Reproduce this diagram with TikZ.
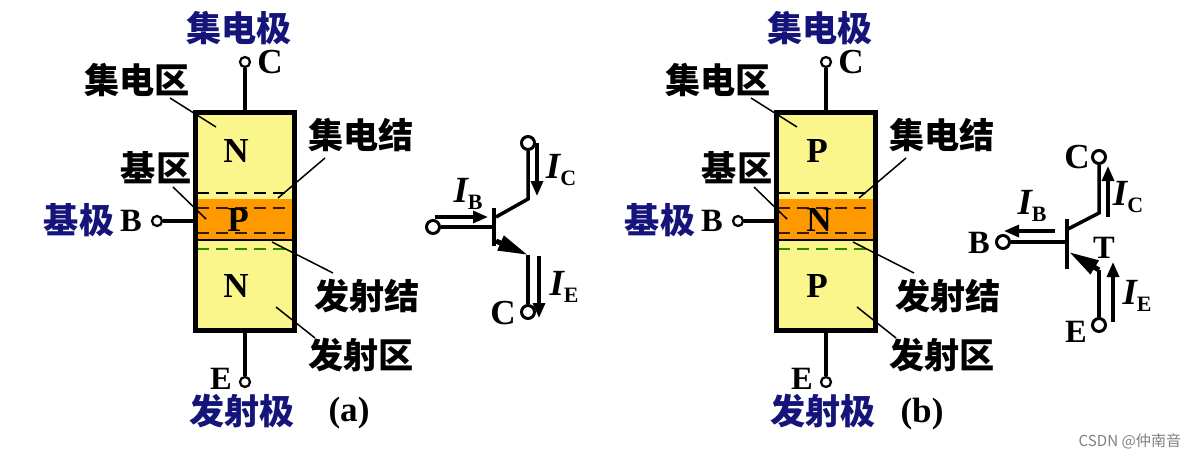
\documentclass[tikz,border=0pt]{standalone}
\usepackage{fontspec}
\usepackage{xcolor}
\setmainfont{Liberation Serif}
\newfontfamily\cjk{Noto Sans CJK SC}
\usetikzlibrary{arrows.meta,calc}
\definecolor{regionN}{HTML}{FBF68C}
\definecolor{regionM}{HTML}{FF9900}
\definecolor{poleblue}{HTML}{14147A}
\definecolor{junctiongreen}{HTML}{2E8B00}
\newcommand{\curlab}[1]{{\fontsize{21pt}{21pt}\selectfont\bfseries\itshape I}\raisebox{-0.9ex}{\fontsize{12.5pt}{12.5pt}\selectfont\bfseries #1}}
\tikzset{
  zh/.style={font=\cjk\bfseries\fontsize{20pt}{20pt}\selectfont, inner sep=0pt},
  pole/.style={zh, text=poleblue},
  lat/.style={font=\bfseries\fontsize{20pt}{20pt}\selectfont, inner sep=0pt},
  latsmall/.style={font=\bfseries\fontsize{18.5pt}{18.5pt}\selectfont, inner sep=0pt},
  cur/.style={inner sep=0pt},
  term/.style={circle, draw, fill=white, line width=0.045cm, minimum size=0.2cm, inner sep=0pt},
  bigterm/.style={term, line width=0.06cm, minimum size=0.26cm},
  lead/.style={line width=0.09cm},
  pointer/.style={line width=0.03cm},
  cutline/.style={line width=0.035cm, dash pattern=on 0.24cm off 0.14cm},
  flow/.style={line width=0.065cm, -{Stealth[length=0.3cm,width=0.24cm,inset=0pt]}},
  emit/.style={line width=0.1cm, -{Stealth[length=0.6cm,width=0.3cm,inset=0pt]}}
}

\begin{document}
\begin{tikzpicture}[x=0.02cm, y=-0.02cm]
\useasboundingbox (0,0) rectangle (1195,457);

\foreach \dx/\outerlet/\innerlet/\tag in {0/N/P/a, 581/P/N/b}{
\begin{scope}[shift={(\dx,0)}]
% regions of the crystal
\fill[regionN] (195,112) rectangle (295,331);
\fill[regionM] (195,199) rectangle (295,240);
\draw[line width=0.03cm] (195,240) -- (295,240);
\draw[cutline] (197,193) -- (293,193);
\draw[cutline, black!80!regionM] (197,208) -- (293,208);
\draw[cutline, black!80!regionM] (197,233) -- (293,233);
\draw[cutline, junctiongreen] (197,249) -- (293,249);
\node[draw, line width=0.1cm, minimum width=1.98cm, minimum height=4.38cm, inner sep=0pt] (box\tag) at (245,221.5) {};

% letters in the regions
\node[lat] (upper\tag) at (236,151) {\outerlet};
\node[lat] (centre\tag) at (238,220) {\innerlet};
\node[lat] (lower\tag) at (236,286) {\outerlet};

% terminals
\node[term] (C\tag) at (245,62) {};
\node[term] (B\tag) at (157,221) {};
\node[term] (E\tag) at (245,382) {};
\draw[lead] (C\tag) -- (box\tag.north);
\draw[lead] (E\tag) -- (box\tag.south);
\draw[lead] (B\tag) -- (box\tag.west |- B\tag);
\node[lat] (Clab\tag) at (270,62) {C};
\node[latsmall] (Blab\tag) at (131,221) {B};
\node[latsmall] (Elab\tag) at (221,379) {E};

% names of the electrodes
\node[pole] (polec\tag) at (239,28) {集电极};
\node[pole] (poleb\tag) at (79,220) {基极};
\node[pole] (polee\tag) at (242,411) {发射极};

% names of the regions and junctions
\node[zh] (zonec\tag) at (137,80) {集电区};
\node[zh] (zoneb\tag) at (156,168) {基区};
\node[zh] (zonee\tag) at (361,355) {发射区};
\node[zh] (joinc\tag) at (361,135) {集电结};
\node[zh] (joine\tag) at (367,296) {发射结};
\coordinate (pc\tag) at (216,127);
\coordinate (pb\tag) at (206,219);
\coordinate (pe\tag) at (276,307);
\coordinate (jc\tag) at (278,198);
\coordinate (je\tag) at (272,242);
\draw[pointer] (zonec\tag) ++(33,18) -- (pc\tag);
\draw[pointer] (zoneb\tag) ++(17,19) -- (pb\tag);
\draw[pointer] (zonee\tag) ++(-46,-17) -- (pe\tag);
\draw[pointer] (joinc\tag) ++(-36,23) -- (jc\tag);
\draw[pointer] (joine\tag) ++(-34,-23) -- (je\tag);
\end{scope}
}
\node[lat] (taga) at (349,413) {(a)};
\node[lat] (tagb) at (922,414) {(b)};

% transistor of (a)
\node[bigterm] (Tac) at (528,143) {};
\node[bigterm] (Tab) at (433,227) {};
\node[bigterm] (Tae) at (528,312) {};
\coordinate (Tak) at (528,199);
\coordinate (Tam) at (528,255);
\draw[lead] (494,208) -- (494,246);
\draw[line width=0.07cm] (Tac) -- (Tak) -- (496,217);
\draw[line width=0.07cm] (Tab) -- (494,227);
\draw[emit] (496,241) -- (Tam);
\draw[line width=0.07cm] (Tam) -- (Tae);
\draw[flow] (435,217) -- (488,217);
\draw[flow] (537,143) -- (537,196);
\draw[flow] (539,256) -- (539,318);
\node[cur] (Iba) at (468,194) {\curlab{B}};
\node[cur] (Ica) at (561,170) {\curlab{C}};
\node[cur] (Iea) at (564,287) {\curlab{E}};
\node[lat] (Cba) at (503,313) {C};

% transistor of (b)
\node[bigterm] (Tbc) at (1099,157) {};
\node[bigterm] (Tbb) at (1003,242) {};
\node[bigterm] (Tbe) at (1099,325) {};
\coordinate (Tbk) at (1099,213);
\coordinate (Tbm) at (1099,270);
\draw[lead] (1067,219) -- (1067,269);
\draw[line width=0.07cm] (Tbc) -- (Tbk) -- (1068,229);
\draw[line width=0.07cm] (Tbb) -- (1067,242);
\draw[emit] (Tbm) -- (1069,252);
\draw[line width=0.07cm] (Tbm) -- (Tbe);
\draw[flow] (1055,231) -- (1004,231);
\draw[flow] (1108,217) -- (1108,166);
\draw[flow] (1113,322) -- (1113,262);
\node[cur] (Ibb) at (1032,206) {\curlab{B}};
\node[cur] (Icb) at (1128,197) {\curlab{C}};
\node[cur] (Ieb) at (1137,296) {\curlab{E}};
\node[lat] (Ccb) at (1077,157) {C};
\node[latsmall] (Bcb) at (979,243) {B};
\node[latsmall] (Tcb) at (1104,248) {T};
\node[latsmall] (Ecb) at (1076,332) {E};

\node[text=black!50, font=\cjk\fontsize{8.6pt}{8.6pt}\selectfont, inner sep=0pt] (mark) at (1130,441) {CSDN @仲南音};
\end{tikzpicture}
\end{document}
